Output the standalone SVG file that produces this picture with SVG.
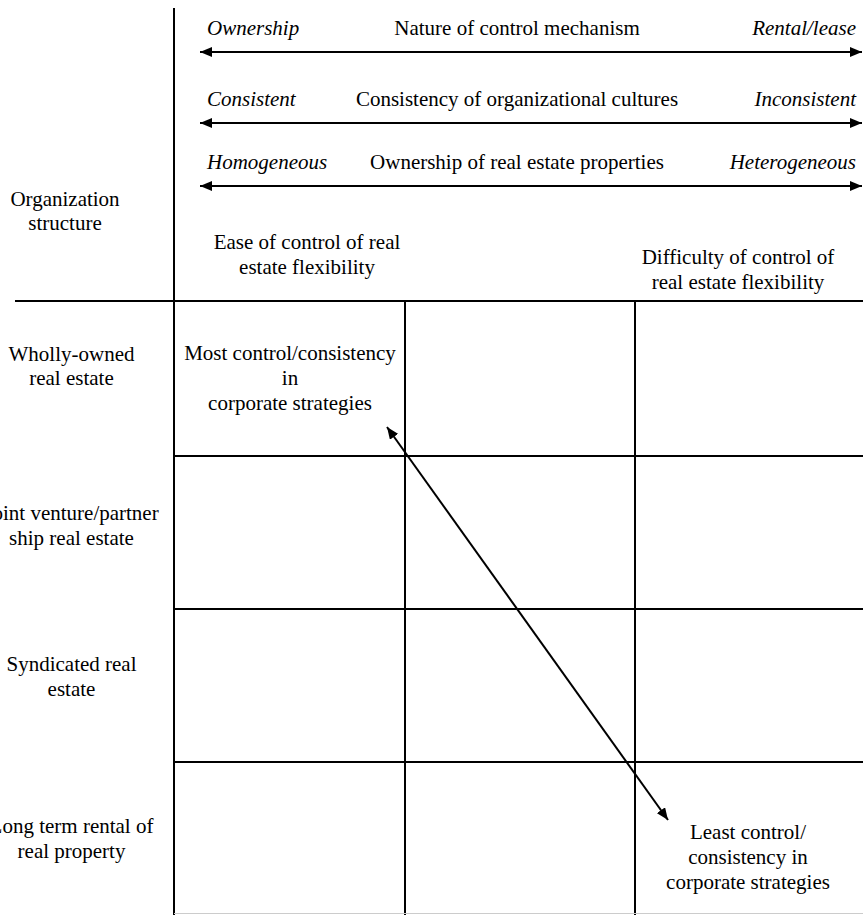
<svg xmlns="http://www.w3.org/2000/svg" width="863" height="915" viewBox="0 0 863 915">
<style>
text{font-family:"Liberation Serif","Times New Roman",serif;font-size:21px;fill:#000}
.i{font-style:italic}
.m{text-anchor:middle}
.e{text-anchor:end}
.ln{stroke:#000;stroke-width:2;fill:none}
</style>
<defs>
<marker id="ah" viewBox="0 0 12 10" refX="12" refY="5" markerWidth="12" markerHeight="10" markerUnits="userSpaceOnUse" orient="auto-start-reverse">
<path d="M0,0L12,5L0,10z" fill="#000"/>
</marker>
</defs>
<rect width="863" height="915" fill="#fff"/>
<g id="grid">
<line class="ln" x1="174" y1="8" x2="174" y2="915"/>
<line class="ln" x1="15" y1="301" x2="863" y2="301"/>
<line class="ln" x1="405" y1="301" x2="405" y2="915"/>
<line class="ln" x1="635" y1="301" x2="635" y2="915"/>
<line class="ln" x1="174" y1="456" x2="863" y2="456"/>
<line class="ln" x1="174" y1="609" x2="863" y2="609"/>
<line class="ln" x1="174" y1="762" x2="863" y2="762"/>
<line x1="174" y1="913.5" x2="863" y2="913.5" stroke="#ccc" stroke-width="1"/>
</g>
<g id="connectors">
<line class="ln" x1="200" y1="52" x2="862" y2="52" marker-start="url(#ah)" marker-end="url(#ah)"/>
<line class="ln" x1="200" y1="123" x2="862" y2="123" marker-start="url(#ah)" marker-end="url(#ah)"/>
<line class="ln" x1="200" y1="186" x2="862" y2="186" marker-start="url(#ah)" marker-end="url(#ah)"/>
<line class="ln" x1="387" y1="427" x2="668" y2="820" marker-start="url(#ah)" marker-end="url(#ah)"/>
</g>
<g id="axis1">
<text class="i" x="207" y="35">Ownership</text>
<text class="m" x="517" y="35">Nature of control mechanism</text>
<text class="i e" x="856" y="35">Rental/lease</text>
</g>
<g id="axis2">
<text class="i" x="207" y="106">Consistent</text>
<text class="m" x="517" y="106">Consistency of organizational cultures</text>
<text class="i e" x="856" y="106">Inconsistent</text>
</g>
<g id="axis3">
<text class="i" x="207" y="169">Homogeneous</text>
<text class="m" x="517" y="169">Ownership of real estate properties</text>
<text class="i e" x="856" y="169">Heterogeneous</text>
</g>
<g id="org-structure">
<text class="m" x="65" y="206">Organization</text>
<text class="m" x="65" y="230">structure</text>
</g>
<g id="ease">
<text class="m" x="307" y="249">Ease of control of real</text>
<text class="m" x="307" y="274">estate flexibility</text>
</g>
<g id="difficulty">
<text class="m" x="738" y="264">Difficulty of control of</text>
<text class="m" x="738" y="289">real estate flexibility</text>
</g>
<g id="row-wholly">
<text class="m" x="71.5" y="361">Wholly-owned</text>
<text class="m" x="71.5" y="385">real estate</text>
</g>
<g id="row-joint">
<text class="m" x="71.5" y="520">Joint venture/partner</text>
<text class="m" x="71.5" y="545">ship real estate</text>
</g>
<g id="row-syndicated">
<text class="m" x="71.5" y="671">Syndicated real</text>
<text class="m" x="71.5" y="696">estate</text>
</g>
<g id="row-rental">
<text class="m" x="71.5" y="833">Long term rental of</text>
<text class="m" x="71.5" y="858">real property</text>
</g>
<g id="most">
<text class="m" x="290" y="360">Most control/consistency</text>
<text class="m" x="290" y="385">in</text>
<text class="m" x="290" y="410">corporate strategies</text>
</g>
<g id="least">
<text class="m" x="748" y="839">Least control/</text>
<text class="m" x="748" y="864">consistency in</text>
<text class="m" x="748" y="889">corporate strategies</text>
</g>
</svg>
